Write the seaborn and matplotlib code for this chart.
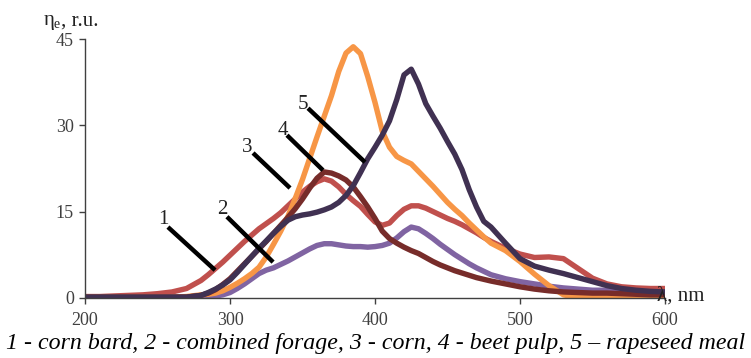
import matplotlib
matplotlib.use("Agg")
import matplotlib.pyplot as plt
import seaborn as sns
import pandas as pd

wavelength = [200, 210, 220, 230, 240, 250, 260, 270,
              280, 285, 290, 295, 300, 305, 310, 315, 320, 325, 330, 335, 340, 345,
              350, 355, 360, 365, 370, 375, 380, 385, 390, 395, 400, 405, 410, 415,
              420, 425, 430, 435, 440, 445, 450, 455, 460, 465, 470, 475, 480,
              490, 500, 510, 520, 530, 540, 550, 560, 570, 580, 590, 600]

corn_bard = [0.2, 0.2, 0.3, 0.4, 0.5, 0.7, 1.0, 1.6,
             3.0, 4.0, 5.1, 6.2, 7.4, 8.6, 9.8, 10.9, 12.0, 12.9, 13.8, 14.8, 16.0, 17.2,
             18.4, 19.4, 20.2, 20.7, 20.3, 19.3, 18.0, 16.9, 15.9, 14.5, 13.2, 12.6, 13.0, 14.3,
             15.4, 16.0, 16.0, 15.6, 15.0, 14.4, 13.8, 13.3, 12.7, 12.0, 11.3, 10.5, 9.8,
             8.6, 7.6, 7.0, 7.1, 6.8, 5.1, 3.4, 2.4, 1.9, 1.7, 1.6, 1.6]

combined_forage = [0.1, 0.1, 0.1, 0.1, 0.1, 0.1, 0.1, 0.1,
                   0.1, 0.2, 0.3, 0.5, 0.9, 1.6, 2.4, 3.3, 4.2, 4.8, 5.2, 5.8, 6.4, 7.1,
                   7.8, 8.5, 9.1, 9.4, 9.4, 9.2, 9.0, 8.9, 8.9, 8.8, 8.9, 9.1, 9.5, 10.4,
                   11.5, 12.3, 12.0, 11.2, 10.3, 9.3, 8.4, 7.5, 6.7, 5.9, 5.2, 4.6, 4.0,
                   3.3, 2.8, 2.4, 2.0, 1.7, 1.5, 1.3, 1.3, 1.2, 1.1, 1.0, 1.0]

corn = [0.1, 0.1, 0.1, 0.1, 0.1, 0.1, 0.1, 0.2,
        0.5, 0.6, 0.8, 1.2, 1.8, 2.5, 3.3, 4.2, 5.3, 7.1, 9.3, 11.6, 14.2, 17.3,
        20.6, 24.3, 28.0, 31.6, 35.2, 39.4, 42.6, 43.7, 42.5, 38.5, 34.0, 29.0, 26.2, 24.6,
        23.9, 23.3, 22.0, 20.7, 19.4, 18.0, 16.6, 15.4, 14.3, 13.0, 11.8, 10.6, 9.5,
        8.2, 6.3, 4.1, 2.1, 0.5, 0.0, 0.0, 0.0, 0.0, 0.0, 0.0, 0.0]

beet_pulp = [0.1, 0.1, 0.1, 0.1, 0.1, 0.1, 0.1, 0.1,
             0.4, 0.8, 1.4, 2.3, 3.3, 4.6, 5.9, 7.2, 8.5, 9.8, 11.2, 12.6, 14.0, 15.5,
             17.2, 19.1, 20.8, 21.9, 21.7, 21.2, 20.5, 19.3, 17.6, 15.8, 13.8, 11.6, 10.3, 9.5,
             8.8, 8.2, 7.7, 7.0, 6.3, 5.7, 5.2, 4.7, 4.3, 3.9, 3.5, 3.2, 2.9,
             2.4, 1.9, 1.5, 1.2, 1.0, 0.9, 0.8, 0.8, 0.7, 0.6, 0.5, 0.5]

rapeseed_meal = [0.1, 0.1, 0.1, 0.1, 0.1, 0.1, 0.1, 0.1,
                 0.4, 0.9, 1.5, 2.2, 3.1, 4.4, 5.8, 7.2, 8.6, 9.9, 11.2, 12.4, 13.5, 14.1,
                 14.4, 14.6, 14.9, 15.3, 15.8, 16.6, 17.8, 19.5, 21.8, 24.2, 26.2, 28.3, 30.8, 34.5,
                 38.8, 39.8, 37.2, 33.8, 31.6, 29.5, 27.2, 25.0, 22.3, 18.8, 15.8, 13.3, 12.3,
                 9.5, 6.8, 5.5, 4.8, 4.2, 3.5, 2.8, 2.1, 1.6, 1.3, 1.1, 1.0]

series_names = ["1", "2", "3", "4", "5"]
series_values = [corn_bard, combined_forage, corn, beet_pulp, rapeseed_meal]
colors = ["#C0504D", "#8064A2", "#F79646", "#772C2A", "#403152"]

x_ticks = [200, 300, 400, 500, 600]
y_ticks = [0, 15, 30, 45]
caption = "1 - corn bard, 2 - combined forage, 3 - corn, 4 - beet pulp, 5 \u2013 rapeseed meal"

rows = []
for name, vals in zip(series_names, series_values):
    for w, v in zip(wavelength, vals):
        rows.append({"wavelength": w, "eta": v, "series": name})
df = pd.DataFrame(rows)

sns.set_theme(style="white")
plt.rcParams["font.family"] = ["Liberation Serif", "DejaVu Serif"]

fig = plt.figure(figsize=(7.51, 3.58), dpi=100)
ax = fig.add_axes([85 / 751, 60.3 / 358, 580 / 751, 258.4 / 358])

sns.lineplot(data=df, x="wavelength", y="eta", hue="series", palette=colors,
             hue_order=series_names, linewidth=3.9, legend=False, ax=ax,
             solid_capstyle="butt", solid_joinstyle="round")

ax.set_xlim(200, 600)
ax.set_ylim(0, 45)
ax.set_xticks(x_ticks)
ax.set_yticks(y_ticks)
ax.set_xlabel("")
ax.set_ylabel("")
for s in ["top", "right"]:
    ax.spines[s].set_visible(False)
for s in ["left", "bottom"]:
    ax.spines[s].set_color("#404040")
    ax.spines[s].set_linewidth(1.0)
ax.tick_params(axis="both", which="major", length=4, width=1.0, color="#404040",
               labelsize=13, labelcolor="#404040", direction="out",
               bottom=True, left=True)
ax.tick_params(axis="x", pad=6)
ax.tick_params(axis="y", pad=4)

# leader lines and labels
leaders = [
    ("1", (257.2, 12.3), (289.7, 4.8), (253.8, 13.6)),
    ("2", (297.9, 14.1), (329.7, 6.2), (294.5, 15.3)),
    ("3", (315.9, 25.2), (341.4, 19.1), (311.7, 26.1)),
    ("4", (339.3, 28.3), (364.1, 22.2), (336.6, 29.1)),
    ("5", (353.8, 33.0), (393.1, 23.6), (350.3, 33.6)),
]
for lab, p0, p1, pt in leaders:
    ax.plot([p0[0], p1[0]], [p0[1], p1[1]], color="black", linewidth=3.2,
            solid_capstyle="butt", zorder=5)
    ax.text(pt[0], pt[1], lab, fontsize=15, ha="center", va="center", color="#222222",
            zorder=6)

fig.text(44 / 751, 1 - 21 / 358, "\u03b7", fontsize=15, ha="left", va="center",
         color="#222222")
fig.text(54 / 751, 1 - 25 / 358, "e", fontsize=10, ha="left", va="center",
         color="#222222")
fig.text(61 / 751, 1 - 21 / 358, ", r.u.", fontsize=15, ha="left", va="center",
         color="#222222")
fig.text(657 / 751, 1 - 296 / 358, "\u03bb, nm", fontsize=15, ha="left", va="center",
         color="#222222")
fig.text(0.5, 1 - 343 / 358, caption, fontsize=17.2, style="italic",
         family="Liberation Serif", ha="center", va="center", color="black")

fig.savefig("out.png", dpi=100)
